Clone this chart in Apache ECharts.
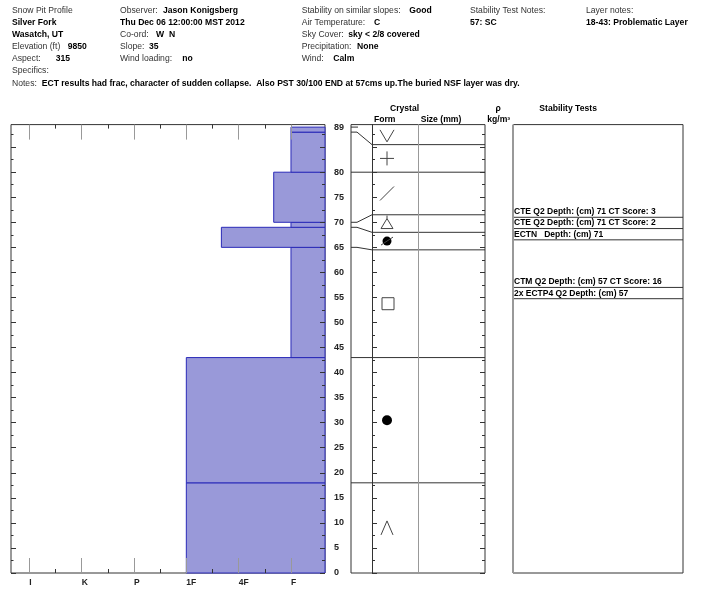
<!DOCTYPE html>
<html><head><meta charset="utf-8">
<script src="https://cdn.jsdelivr.net/npm/echarts@6/dist/echarts.min.js"></script>
<style>html,body{margin:0;padding:0;background:#fff}#c{width:722px;height:600px}</style>
</head><body><div id="c"></div>
<script>
// ---------------- data ----------------
const layerBottoms   = [0, 18, 43, 65, 69, 70, 80, 88];
const layerTops      = [18, 43, 65, 69, 70, 80, 88, 89];
// hardness index: 1=F, 2=4F, 3=1F, 4=P, 5=K, 6=I (fractions = +/- steps)
const layerHardness  = [3, 3, 1, 2.33, 1, 1.33, 1, 1];
const layerForms     = ['DH', 'RG', 'FC', 'RGxf', 'NSF', 'DF', 'PP', 'SH'];
const hardnessLabels = ['F', '4F', '1F', 'P', 'K', 'I'];
const depthLabels    = [0, 5, 10, 15, 20, 25, 30, 35, 40, 45, 50, 55, 60, 65, 70, 75, 80, 89];
const testLabels = [
  'CTE Q2 Depth: (cm) 71 CT Score: 3',
  'CTE Q2 Depth: (cm) 71 CT Score: 2',
  'ECTN   Depth: (cm) 71',
  'CTM Q2 Depth: (cm) 57 CT Score: 16',
  '2x ECTP4 Q2 Depth: (cm) 57'
];
const testDepths = [71, 71, 71, 57, 57];

// ---------------- layout constants ----------------
const FONT = "'Liberation Sans', Arial, Helvetica, sans-serif";
const FS = 8.6;
const YMAX = 89.5;
const TOP = 124.6, HEIGHT = 448.4;
const HMIN = 0.35, HMAX = 6.35;
const LINE = '#333', GREY = '#999';

const majorTicks = [], minorTicks = [];
for (let v = 0; v <= 85; v += 5) majorTicks.push(v);
for (let v = 2.5; v < 89; v += 5) minorTicks.push(v);
const hardTicks = hardnessLabels.map((_, i) => i + 1);
const hardMid = hardTicks.slice(0, -1).map(v => v + 0.5);

// boundaries (top first) and spread layout for the crystal column
const boundaries = [layerTops[layerTops.length - 1]].concat(layerBottoms.slice().reverse());
function spread(vals, gap, maxV, minV) {
  const clusters = vals.map(v => ({ items: [v], start: v }));
  const place = c => {
    const n = c.items.length;
    const mean = c.items.reduce((a, b) => a + b, 0) / n;
    let s = mean + gap * (n - 1) / 2;
    if (s > maxV) s = maxV;
    if (s - gap * (n - 1) < minV) s = minV + gap * (n - 1);
    c.start = s;
  };
  clusters.forEach(place);
  let merged = true;
  while (merged) {
    merged = false;
    for (let i = 1; i < clusters.length; i++) {
      const a = clusters[i - 1], b = clusters[i];
      const aEnd = a.start - gap * (a.items.length - 1);
      if (aEnd - b.start < gap - 1e-9) {
        a.items = a.items.concat(b.items);
        clusters.splice(i, 1);
        place(a);
        merged = true;
        break;
      }
    }
  }
  const out = [];
  clusters.forEach(c => c.items.forEach((v, k) => out.push(c.start - gap * k)));
  return out;
}
const adjBounds = spread(boundaries, 3.5, boundaries[0], 0);

// stacked test rows
const testAdj = [];
testDepths.forEach((d, i) => {
  testAdj.push(i === 0 ? d : Math.min(d, testAdj[i - 1] - 2.25));
});

// ---------------- axes ----------------
function yTick(grid, pos, vals, len, extra) {
  const a = {
    type: 'value', gridIndex: grid, position: pos, min: 0, max: YMAX, z: 5,
    axisLine: { show: false, onZero: false },
    axisTick: { show: true, inside: true, length: len, customValues: vals, lineStyle: { color: LINE, width: 1 } },
    axisLabel: { show: false }, splitLine: { show: false }
  };
  return Object.assign(a, extra || {});
}
function xTick(pos, vals, len, color, label) {
  return {
    type: 'value', gridIndex: 0, position: pos, inverse: true, min: HMIN, max: HMAX, z: 5,
    axisLine: { show: false, onZero: false },
    axisTick: { show: true, inside: true, length: len, customValues: vals, lineStyle: { color: color, width: 1 } },
    axisLabel: label ? {
      show: true, customValues: hardTicks, formatter: v => hardnessLabels[Math.round(v) - 1],
      align: 'left', margin: 5, fontSize: 8.5, fontWeight: 'bold', color: '#222', fontFamily: FONT
    } : { show: false },
    splitLine: { show: false }
  };
}

const xAxes = [
  xTick('bottom', hardTicks, 15, GREY, true),
  xTick('bottom', hardMid, 4, LINE, false),
  xTick('top', hardTicks, 15, GREY, false),
  xTick('top', hardMid, 4, LINE, false),
  { type: 'value', gridIndex: 1, min: 0, max: 1, show: false },
  { type: 'value', gridIndex: 2, min: 0, max: 1, show: false }
];

const yAxes = [
  yTick(0, 'left', majorTicks, 5),
  yTick(0, 'left', minorTicks, 2.5),
  yTick(0, 'right', majorTicks, 5, {
    axisLabel: {
      show: true, customValues: depthLabels, margin: 9, align: 'left',
      fontSize: 9, fontWeight: 'bold', color: '#222', fontFamily: FONT
    }
  }),
  yTick(0, 'right', minorTicks, 3),
  yTick(1, 'left', majorTicks, 5, { offset: -21, axisLine: { show: true, onZero: false, lineStyle: { color: LINE } } }),
  yTick(1, 'left', minorTicks, 3, { offset: -21 }),
  yTick(1, 'right', majorTicks, 5),
  yTick(1, 'right', minorTicks, 3),
  yTick(1, 'left', [], 0, { offset: -67, axisTick: { show: false }, axisLine: { show: true, onZero: false, lineStyle: { color: GREY } } }),
  yTick(2, 'left', [], 0, { axisTick: { show: false }, axisLine: { show: true, onZero: false, lineStyle: { color: GREY } } })
];

// ---------------- series ----------------
const hardData = layerBottoms.map((b, i) => [b, layerTops[i], layerHardness[i]]);
const connData = boundaries.slice(0, -1).map((b, i) => [b, adjBounds[i], i]);
const symData = layerForms.map((f, i) => {
  const k = layerForms.length - 1 - i; // boundary index of layer top
  return [adjBounds[k], adjBounds[k + 1], i];
});
const testData = testAdj.map((d, i) => [d, i]);

function drawSymbol(code, cx, cy) {
  const st = { stroke: '#444', lineWidth: 1, fill: null };
  switch (code) {
    case 'SH': return [{ type: 'polyline', shape: { points: [[cx - 7, cy - 6], [cx, cy + 6], [cx + 7, cy - 6]] }, style: st }];
    case 'PP': return [
      { type: 'line', shape: { x1: cx - 7, y1: cy, x2: cx + 7, y2: cy }, style: st },
      { type: 'line', shape: { x1: cx, y1: cy - 7, x2: cx, y2: cy + 7 }, style: st }];
    case 'DF': return [{ type: 'line', shape: { x1: cx - 7, y1: cy + 7, x2: cx + 7, y2: cy - 7 }, style: st }];
    case 'NSF': return [
      { type: 'polygon', shape: { points: [[cx, cy - 5], [cx - 6, cy + 5], [cx + 6, cy + 5]] }, style: st },
      { type: 'line', shape: { x1: cx, y1: cy - 8, x2: cx, y2: cy - 5 }, style: st }];
    case 'RGxf': return [
      { type: 'circle', shape: { cx: cx, cy: cy, r: 4.5 }, style: { fill: '#000' } },
      { type: 'line', shape: { x1: cx - 6, y1: cy + 4, x2: cx + 6, y2: cy - 4 }, style: st }];
    case 'FC': return [{ type: 'rect', shape: { x: cx - 5, y: cy - 6, width: 12, height: 12 }, style: st }];
    case 'RG': return [{ type: 'circle', shape: { cx: cx, cy: cy, r: 5 }, style: { fill: '#000' } }];
    case 'DH': return [{ type: 'polyline', shape: { points: [[cx - 6, cy + 7], [cx, cy - 7], [cx + 6, cy + 7]] }, style: st }];
  }
  return [];
}

const series = [
  {
    type: 'custom', xAxisIndex: 0, yAxisIndex: 0, z: 2, data: hardData,
    renderItem: (params, api) => {
      const p1 = api.coord([HMIN, api.value(1)]);
      const p2 = api.coord([api.value(2), api.value(0)]);
      return {
        type: 'rect',
        shape: { x: Math.min(p1[0], p2[0]), y: p1[1], width: Math.abs(p1[0] - p2[0]), height: p2[1] - p1[1] },
        style: { fill: '#9999d9', stroke: '#2a2ab8', lineWidth: 1 }
      };
    }
  },
  {
    type: 'custom', xAxisIndex: 4, yAxisIndex: 4, z: 3, data: connData,
    renderItem: (params, api) => {
      const cs = params.coordSys;
      const yr = api.coord([0, api.value(0)])[1];
      const ya = api.coord([0, api.value(1)])[1];
      const st = { stroke: LINE, lineWidth: 1, fill: null };
      if (api.value(2) === 0) {
        return { type: 'line', shape: { x1: cs.x, y1: yr, x2: cs.x + 7, y2: yr }, style: st };
      }
      return { type: 'polyline', shape: { points: [[cs.x, yr], [cs.x + 6, yr], [cs.x + 21, ya], [cs.x + cs.width, ya]] }, style: st };
    }
  },
  {
    type: 'custom', xAxisIndex: 4, yAxisIndex: 4, z: 3, data: symData,
    renderItem: (params, api) => {
      const cs = params.coordSys;
      const cy = api.coord([0, (api.value(0) + api.value(1)) / 2])[1];
      return { type: 'group', children: drawSymbol(layerForms[api.value(2)], cs.x + 36, cy) };
    }
  },
  {
    type: 'custom', xAxisIndex: 5, yAxisIndex: 9, z: 3, data: testData,
    renderItem: (params, api) => {
      const cs = params.coordSys;
      const y = api.coord([0, api.value(0)])[1];
      return {
        type: 'group', children: [
          { type: 'line', shape: { x1: cs.x, y1: y, x2: cs.x + cs.width, y2: y }, style: { stroke: LINE, lineWidth: 1 } },
          { type: 'text', style: { text: testLabels[api.value(1)], x: cs.x + 1, y: y - 1, align: 'left', verticalAlign: 'bottom',
              font: 'bold 8.5px ' + FONT, fill: '#000' } }
        ]
      };
    }
  }
];

// ---------------- header text ----------------
const R = [10.7, 23, 35, 47, 59, 71, 83.3];
function t(x, y, s, bold) {
  return { type: 'text', x: x, y: y, style: { text: s, font: (bold ? 'bold ' : '') + FS + 'px ' + FONT,
    fill: bold ? '#000' : '#333', align: 'left', verticalAlign: 'middle' } };
}
const graphics = [
  t(12, R[0], 'Snow Pit Profile'), t(12, R[1], 'Silver Fork', true), t(12, R[2], 'Wasatch, UT', true),
  t(12, R[3], 'Elevation (ft)'), t(67.7, R[3], '9850', true),
  t(12, R[4], 'Aspect:'), t(55.7, R[4], '315', true),
  t(12, R[5], 'Specifics:'),
  t(12, R[6], 'Notes:'), t(41.7, R[6], 'ECT results had frac, character of sudden collapse.  Also PST 30/100 END at 57cms up.The buried NSF layer was dry.', true),
  t(120, R[0], 'Observer:'), t(163, R[0], 'Jason Konigsberg', true),
  t(120, R[1], 'Thu Dec 06 12:00:00 MST 2012', true),
  t(120, R[2], 'Co-ord:'), t(156, R[2], 'W  N', true),
  t(120, R[3], 'Slope:'), t(149, R[3], '35', true),
  t(120, R[4], 'Wind loading:'), t(182.3, R[4], 'no', true),
  t(301.7, R[0], 'Stability on similar slopes:'), t(409.3, R[0], 'Good', true),
  t(301.7, R[1], 'Air Temperature:'), t(374, R[1], 'C', true),
  t(301.7, R[2], 'Sky Cover:'), t(348.3, R[2], 'sky < 2/8 covered', true),
  t(301.7, R[3], 'Precipitation:'), t(357, R[3], 'None', true),
  t(301.7, R[4], 'Wind:'), t(333.3, R[4], 'Calm', true),
  t(470, R[0], 'Stability Test Notes:'), t(470, R[1], '57: SC', true),
  t(586, R[0], 'Layer notes:'), t(586, R[1], '18-43: Problematic Layer', true),
  t(390, 108.3, 'Crystal', true), t(374, 119.3, 'Form', true), t(420.7, 119.3, 'Size (mm)', true),
  t(495.5, 108.3, 'ρ', true), t(487.3, 119.3, 'kg/m³', true), t(539.3, 108.3, 'Stability Tests', true)
];

const gridBase = { top: TOP, height: HEIGHT, show: true, borderColor: LINE, borderWidth: 1, containLabel: false, outerBoundsMode: 'none' };
const option = {
  animation: false,
  backgroundColor: '#fff',
  grid: [
    Object.assign({ left: 11, width: 314 }, gridBase),
    Object.assign({ left: 351, width: 134 }, gridBase),
    Object.assign({ left: 513, width: 170 }, gridBase)
  ],
  xAxis: xAxes,
  yAxis: yAxes,
  series: series,
  graphic: { elements: graphics }
};
const chart = echarts.init(document.getElementById('c'));
chart.setOption(option);
</script>
</body></html>
